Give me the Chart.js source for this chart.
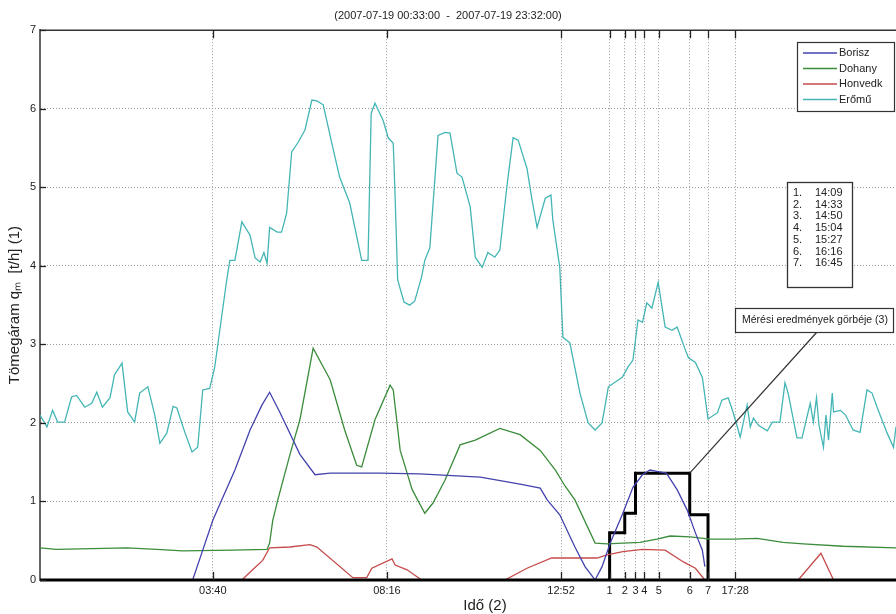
<!DOCTYPE html>
<html>
<head>
<meta charset="utf-8">
<script src="https://cdn.jsdelivr.net/npm/chart.js@4"></script>
<style>
  html, body { margin: 0; padding: 0; background: #fff; }
</style>
</head>
<body>
<canvas id="flowChart" width="896" height="614"></canvas>
<script>
// time axis in minutes from midnight
const fixIdok = ['03:40', '08:16', '12:52', '17:28'];
const meresIdok = ['14:09', '14:33', '14:50', '15:04', '15:27', '16:16', '16:45'];
const meresErtekek = [0.60, 0.85, 1.36, 1.36, 1.36, 0.83, 0];

const boriszT = [188, 204, 220, 234, 255, 279, 298, 310, 326, 358, 382, 406, 485, 548, 644, 707, 739, 750, 770, 794,
  810, 826, 837, 850, 870, 886, 901, 913, 926, 939, 956, 972, 985, 996, 1000];
const boriszV = [0, 0.38, 0.76, 1.02, 1.40, 1.91, 2.23, 2.39, 2.14, 1.60, 1.34, 1.36, 1.36, 1.35, 1.31, 1.22, 1.17, 1.02, 0.83, 0.42,
  0.17, 0, 0.17, 0.47, 0.85, 1.18, 1.34, 1.40, 1.38, 1.36, 1.15, 0.89, 0.60, 0.38, 0.17];

const dohanyT = [-54, -28, 84, 131, 172, 252, 306, 310, 315, 323, 342, 358, 379, 406, 429, 448, 456, 477, 501, 506,
  517, 536, 556, 569, 588, 612, 636, 675, 707, 739, 763, 778, 794, 826, 845, 870, 897, 924, 945, 977,
  1008, 1045, 1083, 1124, 1156, 1219, 1303];
const dohanyV = [0.41, 0.39, 0.41, 0.39, 0.37, 0.38, 0.39, 0.47, 0.76, 1.02, 1.59, 2.04, 2.95, 2.55, 1.91, 1.46, 1.44, 2.04, 2.48, 2.42,
  1.65, 1.15, 0.85, 0.98, 1.27, 1.72, 1.78, 1.93, 1.85, 1.65, 1.40, 1.20, 1.02, 0.47, 0.46, 0.47, 0.48, 0.52, 0.56, 0.55,
  0.52, 0.52, 0.53, 0.48, 0.46, 0.43, 0.41];

const honvedkT = [266, 283, 299, 310, 342, 374, 385, 442, 464, 472, 504, 509, 528, 551, 600, 683, 718, 757, 829, 845,
  870, 901, 937, 966, 985, 1000, 1080, 1148, 1184, 1204];
const honvedkV = [0, 0.13, 0.25, 0.41, 0.42, 0.45, 0.42, 0.03, 0.03, 0.15, 0.27, 0.19, 0.13, 0, null, 0, 0.15, 0.28, 0.28, 0.32,
  0.36, 0.39, 0.38, 0.23, 0.15, 0, null, 0, 0.34, 0];

const eromuT = [-54, -43, -34, -26, -15, -4, 4, 17, 28, 36, 45, 57, 64, 76, 85, 96, 104, 117, 128, 136,
  147, 157, 163, 176, 187, 196, 204, 215, 223, 231, 242, 247, 255, 266, 279, 287, 295, 301, 306, 310,
  322, 329, 337, 345, 355, 366, 377, 385, 395, 410, 421, 437, 456, 466, 471, 477, 490, 498, 506, 509,
  513, 523, 532, 540, 551, 556, 564, 577, 588, 596, 607, 615, 628, 636, 647, 656, 667, 675, 686, 696,
  704, 718, 726, 734, 747, 756, 759, 770, 775, 786, 802, 815, 826, 837, 847, 869, 878, 886, 894, 901,
  908, 916, 926, 937, 948, 956, 969, 974, 985, 996, 1005, 1020, 1027, 1037, 1045, 1056, 1067, 1072, 1077, 1085,
  1099, 1107, 1119, 1127, 1132, 1146, 1154, 1167, 1172, 1177, 1181, 1188, 1192, 1196, 1202, 1204, 1215, 1223, 1235, 1246,
  1257, 1265, 1273, 1289, 1299, 1303];
const eromuV = [2.10, 1.95, 2.16, 2.01, 2.01, 2.33, 2.35, 2.20, 2.25, 2.39, 2.20, 2.32, 2.61, 2.76, 2.14, 2.01, 2.38, 2.46, 2.10, 1.74,
  1.87, 2.21, 2.19, 1.87, 1.63, 1.69, 2.42, 2.44, 2.71, 3.18, 3.82, 4.07, 4.07, 4.56, 4.39, 4.10, 4.05, 4.17, 4.03, 4.49,
  4.43, 4.43, 4.67, 5.45, 5.57, 5.73, 6.11, 6.10, 6.05, 5.51, 5.13, 4.80, 4.07, 4.07, 5.94, 6.07, 5.85, 5.63, 5.56, 4.87,
  3.82, 3.54, 3.50, 3.55, 3.86, 4.07, 4.23, 5.66, 5.70, 5.69, 5.18, 5.13, 4.75, 4.11, 3.98, 4.17, 4.11, 4.20, 5.00, 5.63,
  5.60, 5.24, 4.84, 4.49, 4.86, 4.90, 4.58, 3.98, 3.09, 3.02, 2.38, 2.00, 1.91, 2.00, 2.46, 2.58, 2.71, 2.80, 3.31, 3.28,
  3.53, 3.46, 3.79, 3.22, 3.18, 3.22, 2.93, 2.83, 2.77, 2.58, 2.05, 2.13, 2.29, 2.32, 2.13, 1.82, 2.23, 1.95, 2.06, 1.97,
  1.90, 2.01, 2.01, 2.51, 2.38, 1.81, 1.81, 2.25, 2.01, 2.32, 1.97, 1.69, 2.10, 1.78, 2.38, 2.14, 2.16, 2.10, 1.91, 1.88,
  2.42, 2.38, 2.20, 1.87, 1.69, 1.95];

const FONT = 'Liberation Sans, Arial, sans-serif';

function perc(s) {
  const [h, m] = s.split(':').map(Number);
  return h * 60 + m;
}
function zip(ts, vs) {
  return ts.map((t, i) => ({ x: t, y: vs[i] }));
}

const xTicks = fixIdok.map(s => ({ value: perc(s), label: s }))
  .concat(meresIdok.map((s, i) => ({ value: perc(s), label: String(i + 1) })))
  .sort((a, b) => a.value - b.value);

const lepcso = [{ x: perc(meresIdok[0]), y: 0 }].concat(zip(meresIdok.map(perc), meresErtekek));

const keretPlugin = {
  id: 'keret',
  afterDatasetsDraw(chart) {
    const { ctx, chartArea: a, scales: { x, y } } = chart;
    ctx.save();
    // top border and thick bottom axis
    ctx.strokeStyle = '#333';
    ctx.lineWidth = 1.5;
    ctx.beginPath(); ctx.moveTo(a.left, a.top); ctx.lineTo(a.right, a.top); ctx.stroke();
    ctx.strokeStyle = '#000';
    ctx.lineWidth = 3;
    ctx.beginPath(); ctx.moveTo(a.left, a.bottom); ctx.lineTo(a.right, a.bottom); ctx.stroke();

    // inner tick marks
    ctx.strokeStyle = '#222';
    ctx.lineWidth = 1.3;
    x.ticks.forEach(t => {
      const px = Math.round(x.getPixelForValue(t.value)) + 0.5;
      ctx.beginPath();
      ctx.moveTo(px, a.bottom); ctx.lineTo(px, a.bottom - 8);
      ctx.moveTo(px, a.top); ctx.lineTo(px, a.top + 8);
      ctx.stroke();
    });
    y.ticks.forEach(t => {
      const py = Math.round(y.getPixelForValue(t.value)) + 0.5;
      ctx.beginPath(); ctx.moveTo(a.left, py); ctx.lineTo(a.left + 6, py); ctx.stroke();
    });

    // legend
    const lx = 797, ly = 42, lw = 97, lh = 69;
    ctx.fillStyle = '#fff';
    ctx.fillRect(lx, ly, lw, lh);
    ctx.strokeStyle = '#333';
    ctx.lineWidth = 1.2;
    ctx.strokeRect(lx + 0.5, ly + 0.5, lw, lh);
    ctx.font = '11px ' + FONT;
    ctx.textBaseline = 'middle';
    ctx.textAlign = 'left';
    chart.data.datasets.filter(d => !d.noLegend).forEach((d, i) => {
      const yy = ly + 11 + i * 15.5;
      ctx.strokeStyle = d.borderColor;
      ctx.lineWidth = 1.3;
      ctx.beginPath(); ctx.moveTo(lx + 6, yy); ctx.lineTo(lx + 40, yy); ctx.stroke();
      ctx.fillStyle = '#222';
      ctx.fillText(d.label, lx + 42, yy);
    });

    // list of measurement times
    const bx = 787, by = 182;
    ctx.fillStyle = '#fff';
    ctx.fillRect(bx, by, 65, 105);
    ctx.strokeStyle = '#333';
    ctx.strokeRect(bx + 0.5, by + 0.5, 65, 105);
    ctx.fillStyle = '#222';
    meresIdok.forEach((s, i) => {
      const yy = by + 11 + i * 11.7;
      ctx.fillText((i + 1) + '.', bx + 6, yy);
      ctx.fillText(s, bx + 28, yy);
    });

    // callout for the measured curve
    const ax = x.getPixelForValue(perc(meresIdok[5]));
    const ay = y.getPixelForValue(meresErtekek[4]);
    ctx.strokeStyle = '#333';
    ctx.lineWidth = 1.2;
    ctx.beginPath(); ctx.moveTo(ax, ay); ctx.lineTo(817, 332); ctx.stroke();
    ctx.fillStyle = '#fff';
    ctx.fillRect(735, 308, 158, 24);
    ctx.strokeRect(735.5, 308.5, 158, 24);
    ctx.fillStyle = '#222';
    ctx.font = '10.5px ' + FONT;
    ctx.fillText(chart.data.datasets[4].label, 742, 320.5);

    // x axis title
    ctx.font = '15px ' + FONT;
    ctx.textAlign = 'center';
    ctx.fillStyle = '#222';
    ctx.fillText('Idő (2)', 485, 606);
    ctx.restore();
  }
};

const grid = { color: '#9a9a9a', drawTicks: false };

new Chart(document.getElementById('flowChart'), {
  type: 'line',
  data: {
    datasets: [
      { label: 'Borisz', data: zip(boriszT, boriszV), borderColor: '#4343ad' },
      { label: 'Dohany', data: zip(dohanyT, dohanyV), borderColor: '#3b8c3b' },
      { label: 'Honvedk', data: zip(honvedkT, honvedkV), borderColor: '#c64a4a' },
      { label: 'Erőmű', data: zip(eromuT, eromuV), borderColor: '#44b5b5' },
      { label: 'Mérési eredmények görbéje (3)', data: lepcso, borderColor: '#000', borderWidth: 3,
        stepped: 'before', noLegend: true }
    ]
  },
  options: {
    responsive: false,
    animation: false,
    devicePixelRatio: 1,
    layout: { padding: 0 },
    elements: {
      point: { radius: 0 },
      line: { borderWidth: 1.3, tension: 0, spanGaps: false }
    },
    plugins: {
      legend: { display: false },
      tooltip: { enabled: false },
      title: {
        display: true,
        text: '(2007-07-19 00:33:00  -  2007-07-19 23:32:00)',
        color: '#222',
        font: { family: FONT, size: 11, weight: 'normal' },
        padding: { top: 9, bottom: 8 }
      }
    },
    scales: {
      x: {
        type: 'linear',
        min: -54,
        max: 1303,
        grid: grid,
        border: { display: false, dash: [1, 2] },
        afterBuildTicks: s => { s.ticks = xTicks.map(t => ({ value: t.value })); },
        afterFit: s => { s.height = 34; },
        ticks: {
          autoSkip: false,
          maxRotation: 0,
          minRotation: 0,
          padding: 4,
          color: '#222',
          font: { family: FONT, size: 11 },
          callback: v => (xTicks.find(t => t.value === v) || {}).label
        }
      },
      y: {
        min: 0,
        max: 7,
        grid: grid,
        border: { color: '#666', width: 2, dash: [1, 2] },
        afterFit: s => { s.width = 40; },
        ticks: {
          stepSize: 1,
          padding: 4,
          color: '#222',
          font: { family: FONT, size: 11 }
        },
        title: {
          display: true,
          text: 'Tömegáram qₘ  [t/h] (1)',
          color: '#222',
          font: { family: FONT, size: 15 },
          padding: { top: 6, bottom: 0 }
        }
      }
    }
  },
  plugins: [keretPlugin]
});
</script>
</body>
</html>
